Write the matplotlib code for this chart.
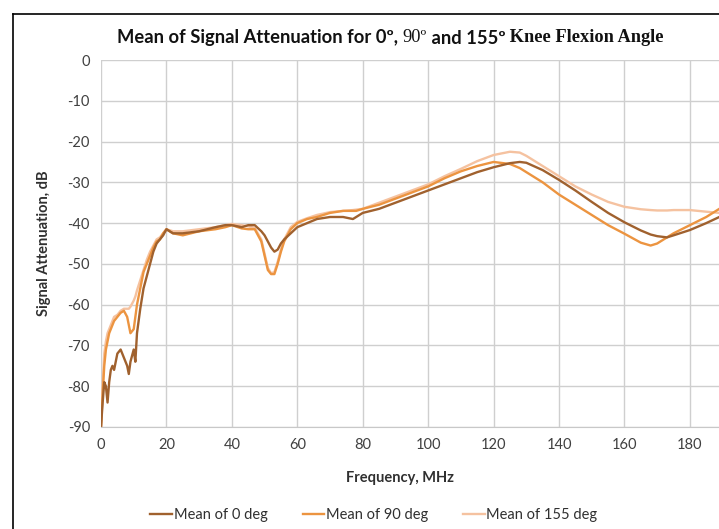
import matplotlib
matplotlib.use("Agg")
import matplotlib.pyplot as plt
from matplotlib.lines import Line2D

plt.rcParams["axes.unicode_minus"] = False

# ---------------- data ----------------
freq_mhz = [0, 0.5, 1, 1.5, 2, 2.5, 3, 3.5, 4, 5, 6, 7, 8, 8.5, 9, 10, 10.5, 11, 12, 13,
            14, 15, 16, 17, 18, 19, 20, 22, 25, 30, 35, 38, 40, 43, 45, 47, 49, 50, 51, 52,
            53, 54, 55, 56, 58, 60, 63, 66, 70, 74, 77, 78, 80, 85, 90, 95, 100, 105, 110, 115,
            120, 125, 128, 130, 135, 140, 145, 150, 155, 160, 165, 168, 170, 173, 175, 180, 185, 189]

mean_0deg = [-90, -84, -79, -80, -84, -79, -76, -75, -76, -72, -71, -73, -75, -77, -74, -71, -74, -67, -61, -56,
             -53, -50, -47, -45, -44, -43, -41.5, -42.5, -42.5, -42, -41, -40.5, -40.5, -41, -40.5, -40.5, -42, -43, -44.5, -46,
             -47, -46.5, -45, -44, -42.5, -41, -40, -39, -38.5, -38.5, -39, -38.5, -37.5, -36.5, -35, -33.5, -32, -30.5, -29, -27.5,
             -26.3, -25.3, -25, -25.2, -27, -29.4, -32, -34.8, -37.5, -39.8, -41.8, -42.8, -43.2, -43.5, -43, -41.7, -40, -38.5]

mean_90deg = [-90, -82, -75, -71, -69, -67, -66, -65, -64, -63, -62, -61.5, -63, -65, -67, -66, -63, -60, -56, -52,
              -50, -48, -46, -44.5, -44, -42.5, -41.5, -42.5, -43, -42, -41.5, -41, -40.5, -41.3, -41.5, -41.5, -44.5, -48, -51.5, -52.5,
              -52.5, -50, -47, -44.5, -41.5, -40, -39, -38.5, -37.5, -37, -37, -37, -36.5, -35.5, -34, -32.5, -31, -29, -27.3, -26,
              -25, -25.5, -26.5, -27.5, -30, -33, -35.5, -38, -40.5, -42.6, -44.8, -45.5, -45, -43.5, -42.5, -40.5, -38.5, -36.5]

mean_155deg = [-90, -80, -72, -69, -67, -66, -65, -64, -63, -62.5, -61.5, -61, -61, -61, -60.5, -59, -58, -56.5, -54, -51.5,
               -49, -47, -45.5, -44, -43.5, -42.5, -41.5, -42, -42, -41.5, -41, -40.5, -40.2, -40.5, -40.8, -41.2, -44, -47.5, -51, -52.3,
               -52, -49.5, -46.5, -44, -41, -39.7, -38.8, -38, -37.3, -37, -36.8, -36.7, -36.5, -35, -33.5, -32, -30.5, -28.5, -26.7, -24.8,
               -23.3, -22.5, -22.7, -23.5, -26, -28.5, -31, -33, -34.8, -36, -36.6, -36.8, -36.9, -36.9, -36.8, -36.8, -37.2, -37.5]

series_labels = ["Mean of 0 deg", "Mean of 90 deg", "Mean of 155 deg"]
series_colors = ["#a0612e", "#ec9440", "#f5c2a0"]
y_ticks = [0, -10, -20, -30, -40, -50, -60, -70, -80, -90]
x_ticks = [0, 20, 40, 60, 80, 100, 120, 140, 160, 180]

# ---------------- figure ----------------
W, H = 719, 529
fig = plt.figure(figsize=(W / 100, H / 100), dpi=100)
fig.patch.set_facecolor("white")

ax_l, ax_r, ax_t, ax_b = 101, 719, 60, 427
ax = fig.add_axes([ax_l / W, 1 - ax_b / H, (ax_r - ax_l) / W, (ax_b - ax_t) / H])

# draw pale first, then orange, then dark on top
order = [2, 1, 0]
all_series = [mean_0deg, mean_90deg, mean_155deg]
lines = {}
for i in order:
    ln, = ax.plot(freq_mhz, all_series[i], color=series_colors[i], lw=1.7,
                  label=series_labels[i], solid_joinstyle="round")
    lines[i] = ln

ax.set_xlim(0, 188.9)
ax.set_ylim(-90, 0)
ax.set_xticks(x_ticks)
ax.set_yticks(y_ticks)
ax.grid(True, color="#cfcfcf", lw=1.0)
ax.set_axisbelow(True)
for s in ["top", "right", "left"]:
    ax.spines[s].set_visible(False)
ax.spines["bottom"].set_color("#c8c8c8")
ax.tick_params(length=0, pad=8, labelsize=10.5, labelcolor="#404040")
for lbl in ax.get_xticklabels() + ax.get_yticklabels():
    lbl.set_fontfamily("Lato")

fig.text(44 / W, 1 - 243 / H, "Signal Attenuation, dB", rotation=90, ha="center", va="center",
         fontsize=10.5, fontweight="bold", family="Lato", color="#303030")
fig.text(400 / W, 1 - 478 / H, "Frequency, MHz", ha="center", va="center",
         fontsize=10.5, fontweight="bold", family="Lato", color="#303030")

leg = fig.legend([lines[0], lines[1], lines[2]], series_labels, loc="center",
                 bbox_to_anchor=(374 / W, 1 - 515 / H), ncol=3, frameon=False,
                 prop={"family": "Lato", "size": 10.5}, handlelength=1.5, handletextpad=0.1,
                 columnspacing=2.4)
for t in leg.get_texts():
    t.set_color("#303030")

# ---------------- title with mixed fonts ----------------
parts = [("Mean of Signal Attenuation for 0º, ", "Lato", "bold"),
         ("90º", "Liberation Serif", "normal"),
         (" and 155º", "Lato", "bold"),
         (" Knee Flexion Angle", "Liberation Serif", "bold")]
fig.canvas.draw()
renderer = fig.canvas.get_renderer()
x0 = 117
y_title = 1 - 38 / H
for txt, fam, wt in parts:
    t = fig.text(x0 / W, y_title, txt, ha="left", va="center", fontsize=13.2,
                 family=fam, fontweight=wt, color="#111111")
    bb = t.get_window_extent(renderer)
    x0 += bb.width

# ---------------- outer frame ----------------
fig.add_artist(Line2D([13 / W, 13 / W], [1 - 14 / H, 0], transform=fig.transFigure, color="black", lw=1.2))
fig.add_artist(Line2D([13 / W, 1], [1 - 14 / H, 1 - 14 / H], transform=fig.transFigure, color="black", lw=1.2))

fig.savefig("out.png", dpi=100, facecolor="white")
